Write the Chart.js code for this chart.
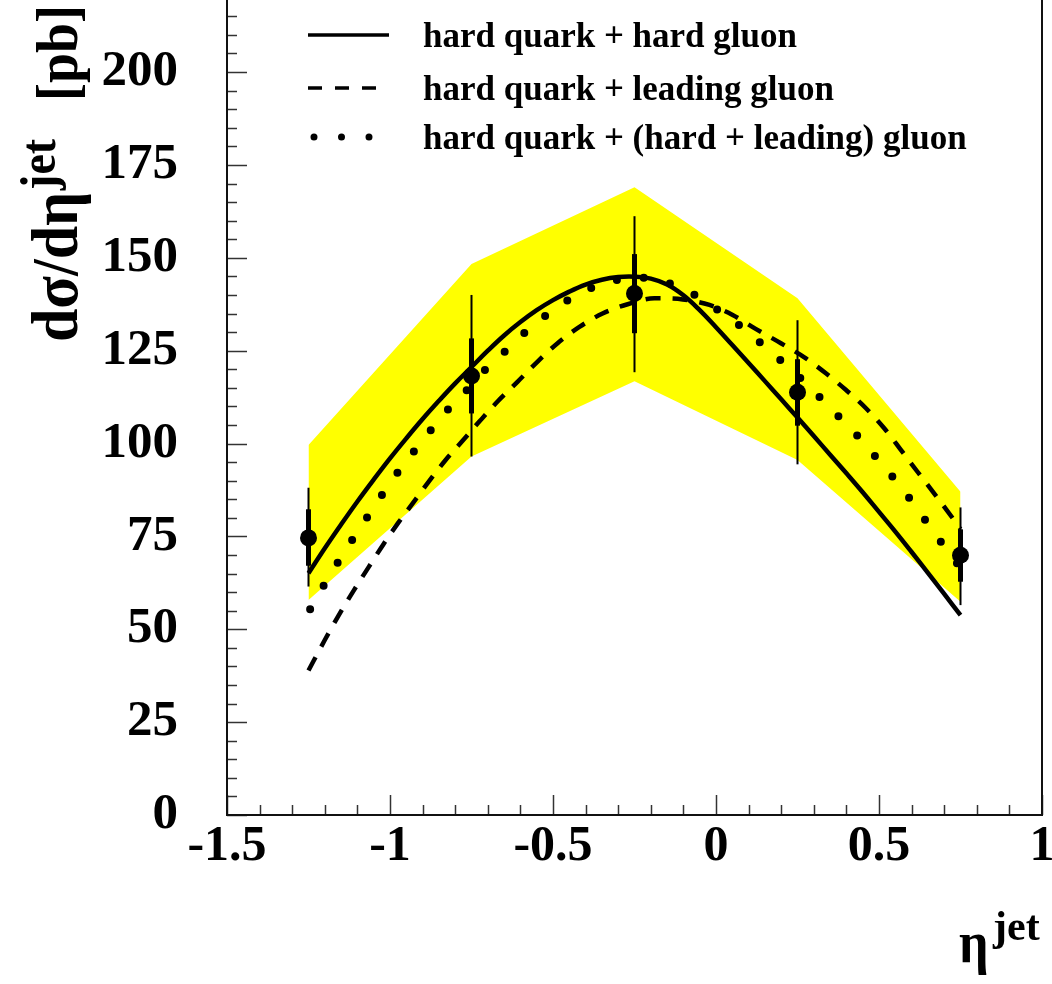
<!DOCTYPE html>
<html>
<head>
<meta charset="utf-8">
<script src="https://cdn.jsdelivr.net/npm/chart.js@4.4.0/dist/chart.umd.min.js"></script>
<style>
html,body{margin:0;padding:0;background:#fff;}
#wrap{width:1052px;height:984px;}
</style>
</head>
<body>
<div id="wrap"><canvas id="c" width="1052" height="984"></canvas></div>
<script>
// ---------- data ----------
const dataEta  = [-1.25, -0.75, -0.25, 0.25, 0.75];
const dataXsec = [74.6, 118.2, 140.4, 113.8, 69.9];
const statHigh = [82.3, 128.3, 151.0, 122.7, 76.9];
const statLow  = [67.1, 108.1, 129.7, 104.8, 62.8];
const totHigh  = [88.1, 140.0, 161.2, 133.2, 82.8];
const totLow   = [61.5, 96.5, 119.2, 94.4, 56.5];

const bandUpper = [99.6, 148.3, 169.0, 139.1, 87.0];
const bandLower = [57.9, 96.5, 116.8, 95.6, 57.4];

const solidEta  = [-1.25, -1.20, -1.15, -1.10, -1.05, -1.00, -0.95, -0.90, -0.85, -0.80, -0.75, -0.70, -0.65, -0.60, -0.55, -0.50, -0.45, -0.40, -0.35, -0.30, -0.25, -0.20, -0.15, -0.10, -0.05, 0.00, 0.05, 0.10, 0.15, 0.20, 0.25, 0.30, 0.35, 0.40, 0.45, 0.50, 0.55, 0.60, 0.65, 0.70, 0.75];
const solidXsec = [65.1, 71.8, 78.2, 84.4, 90.3, 96.0, 101.4, 106.6, 111.5, 116.2, 120.6, 125.0, 129.1, 132.7, 135.9, 138.6, 140.9, 142.8, 144.1, 144.8, 144.9, 144.4, 142.8, 139.9, 135.9, 131.3, 126.5, 121.7, 116.8, 111.9, 107.0, 102.0, 97.0, 92.0, 86.9, 81.6, 76.3, 70.8, 65.2, 59.5, 53.8];

const dashEta  = [-1.25, -1.20, -1.157, -1.11, -1.065, -1.02, -0.976, -0.927, -0.88, -0.83, -0.778, -0.726, -0.67, -0.609, -0.548, -0.486, -0.419, -0.348, -0.271, -0.189, -0.102, -0.02, 0.051, 0.123, 0.199, 0.271, 0.337, 0.399, 0.46, 0.516, 0.567, 0.618, 0.669, 0.726, 0.75];
const dashXsec = [38.9, 47.1, 53.8, 60.6, 66.8, 72.9, 78.5, 84.3, 89.9, 95.5, 100.7, 105.9, 111.3, 116.6, 122.0, 127.0, 131.4, 135.0, 137.5, 139.1, 138.8, 137.3, 134.6, 130.8, 127.0, 123.2, 118.9, 114.4, 109.5, 104.1, 98.3, 92.4, 86.6, 79.9, 77.0];

const dotEta  = [-1.245, -1.203, -1.16, -1.115, -1.069, -1.023, -0.975, -0.924, -0.872, -0.818, -0.759, -0.704, -0.642, -0.582, -0.517, -0.448, -0.373, -0.294, -0.21, -0.13, -0.053, 0.015, 0.082, 0.148, 0.21, 0.271, 0.33, 0.389, 0.447, 0.50, 0.554, 0.605, 0.654, 0.702, 0.75];
const dotXsec = [55.4, 61.8, 68.0, 74.2, 80.3, 86.4, 92.4, 98.2, 103.9, 109.6, 114.9, 120.2, 125.2, 130.2, 134.8, 138.9, 142.2, 144.2, 144.6, 142.7, 139.4, 135.4, 131.1, 126.2, 121.5, 116.6, 111.4, 106.1, 100.8, 95.3, 89.7, 83.9, 77.9, 72.1, 66.5];

const seriesLabels = ['hard quark + hard gluon', 'hard quark + leading gluon', 'hard quark + (hard + leading) gluon'];
const xTickValues = [-1.5, -1, -0.5, 0, 0.5, 1];
const yTickValues = [0, 25, 50, 75, 100, 125, 150, 175, 200];

// ---------- styling ----------
const SERIF = '"Liberation Serif", "Times New Roman", Times, serif';
const YELLOW = '#ffff00';
const pts = (xs, ys) => xs.map((x, i) => ({x: x, y: ys[i]}));

const lineStyles = [
  {borderDash: [], borderWidth: 4.5, cap: 'butt'},
  {borderDash: [15, 12], borderWidth: 4.5, cap: 'butt'},
  {borderDash: [0, 27], borderWidth: 8, cap: 'round'}
];

const framePlugin = {
  id: 'frame',
  afterDatasetsDraw(chart) {
    const ctx = chart.ctx, a = chart.chartArea;
    const xs = chart.scales.x, ys = chart.scales.y;
    const seg = (x1, y1, x2, y2) => { ctx.beginPath(); ctx.moveTo(x1, y1); ctx.lineTo(x2, y2); ctx.stroke(); };
    ctx.save();
    // error bars
    ctx.strokeStyle = '#000';
    ctx.lineCap = 'butt';
    dataEta.forEach((e, i) => {
      const px = xs.getPixelForValue(e);
      ctx.lineWidth = 2;
      seg(px, ys.getPixelForValue(totLow[i]), px, ys.getPixelForValue(totHigh[i]));
      ctx.lineWidth = 5;
      seg(px, ys.getPixelForValue(statLow[i]), px, ys.getPixelForValue(statHigh[i]));
    });
    // ticks (inward)
    ctx.strokeStyle = '#333';
    ctx.lineWidth = 1.5;
    for (let v = 0; v <= ys.max; v += 5) {
      const py = Math.round(ys.getPixelForValue(v)) + 0.5;
      const len = (v % 25 === 0) ? 20 : 10;
      seg(a.left, py, a.left + len, py);
    }
    for (let k = -15; k <= 10; k++) {
      const px = Math.round(xs.getPixelForValue(k / 10)) + 0.5;
      const len = (k % 5 === 0) ? 20 : 10;
      seg(px, a.bottom, px, a.bottom - len);
    }
    // axis frame
    ctx.strokeStyle = '#111';
    ctx.lineWidth = 2;
    seg(a.left, a.top, a.left, a.bottom + 1);
    seg(a.left - 1, a.bottom, a.right + 1, a.bottom);
    seg(a.right, a.top, a.right, a.bottom + 1);
    ctx.restore();
  },
  afterDraw(chart) {
    const ctx = chart.ctx;
    ctx.save();
    ctx.fillStyle = '#000';
    ctx.textBaseline = 'alphabetic';
    ctx.textAlign = 'left';
    // legend
    const rowsY = [35, 88, 137];
    seriesLabels.forEach((lab, i) => {
      const st = lineStyles[i];
      ctx.save();
      ctx.strokeStyle = '#000';
      ctx.lineWidth = i === 2 ? 7 : 3.5;
      ctx.lineCap = st.cap;
      ctx.setLineDash(i === 1 ? [14, 13] : (i === 2 ? [0, 27.5] : []));
      ctx.beginPath();
      ctx.moveTo(i === 2 ? 314 : 308, rowsY[i]);
      ctx.lineTo(i === 2 ? 375 : 389, rowsY[i]);
      ctx.stroke();
      ctx.restore();
      ctx.font = 'bold 35px ' + SERIF;
      ctx.fillText(lab, 423, rowsY[i] + 12);
    });
    // y axis title
    ctx.save();
    ctx.translate(77, 342);
    ctx.rotate(-Math.PI / 2);
    ctx.scale(1, 1.1);
    ctx.font = 'bold 60px ' + SERIF;
    const main = 'd\u03c3/d\u03b7';
    ctx.fillText(main, 0, 0);
    const w1 = ctx.measureText(main).width;
    ctx.font = 'bold 46px ' + SERIF;
    ctx.fillText('jet', w1 + 2, -20);
    ctx.font = 'bold 54px ' + SERIF;
    const wpb = ctx.measureText('[pb]').width;
    ctx.fillText('[pb]', 342 - 5 - wpb, 0);
    ctx.restore();
    // x axis title
    ctx.save();
    ctx.translate(959, 962);
    ctx.scale(1, 1.15);
    ctx.font = 'bold 52px ' + SERIF;
    ctx.fillText('\u03b7', 0, 0);
    ctx.restore();
    ctx.font = 'bold 42px ' + SERIF;
    ctx.fillText('jet', 993, 940);
    ctx.restore();
  }
};

new Chart(document.getElementById('c'), {
  type: 'scatter',
  data: {
    datasets: [
      {label: 'band upper', data: pts(dataEta, bandUpper), showLine: true, borderWidth: 0, borderColor: YELLOW,
       pointRadius: 0, tension: 0, fill: '+1', backgroundColor: YELLOW, order: 10},
      {label: 'band lower', data: pts(dataEta, bandLower), showLine: true, borderWidth: 0, borderColor: YELLOW,
       pointRadius: 0, tension: 0, fill: false, order: 11},
      {label: seriesLabels[0], data: pts(solidEta, solidXsec), showLine: true, borderColor: '#000',
       borderWidth: lineStyles[0].borderWidth, borderDash: lineStyles[0].borderDash, borderCapStyle: lineStyles[0].cap,
       pointRadius: 0, tension: 0.4, fill: false, order: 5},
      {label: seriesLabels[1], data: pts(dashEta, dashXsec), showLine: true, borderColor: '#000',
       borderWidth: lineStyles[1].borderWidth, borderDash: lineStyles[1].borderDash, borderCapStyle: lineStyles[1].cap,
       pointRadius: 0, cubicInterpolationMode: 'monotone', fill: false, order: 4},
      {label: seriesLabels[2], data: pts(dotEta, dotXsec), showLine: true, borderColor: '#000',
       borderWidth: lineStyles[2].borderWidth, borderDash: lineStyles[2].borderDash, borderCapStyle: lineStyles[2].cap,
       pointRadius: 0, cubicInterpolationMode: 'monotone', fill: false, order: 3},
      {label: 'data', data: pts(dataEta, dataXsec), showLine: false, pointRadius: 8.5,
       pointBackgroundColor: '#000', pointBorderColor: '#000', pointBorderWidth: 0, order: 1}
    ]
  },
  options: {
    responsive: false,
    animation: false,
    devicePixelRatio: 1,
    layout: {autoPadding: false, padding: {left: 0, right: 10, top: 0, bottom: 0}},
    plugins: {legend: {display: false}, tooltip: {enabled: false}},
    scales: {
      x: {
        type: 'linear', min: -1.5, max: 1,
        border: {display: false},
        grid: {display: false, drawTicks: false},
        afterBuildTicks: s => { s.ticks = xTickValues.map(v => ({value: v})); },
        ticks: {
          autoSkip: false, maxRotation: 0, minRotation: 0, padding: 2, color: '#000',
          font: {family: SERIF, weight: 'bold', size: 50},
          callback: v => String(Math.round(v * 10) / 10)
        },
        afterFit: s => { s.height = 169; s.paddingLeft = 0; s.paddingRight = 0; }
      },
      y: {
        type: 'linear', min: 0, max: 219.4,
        border: {display: false},
        grid: {display: false, drawTicks: false},
        afterBuildTicks: s => { s.ticks = yTickValues.map(v => ({value: v})); },
        ticks: {
          autoSkip: false, padding: 49, color: '#000',
          font: {family: SERIF, weight: 'bold', size: 51},
          callback: v => String(v)
        },
        afterFit: s => { s.width = 227; s.paddingTop = 0; s.paddingBottom = 0; }
      }
    }
  },
  plugins: [framePlugin]
});
</script>
</body>
</html>
